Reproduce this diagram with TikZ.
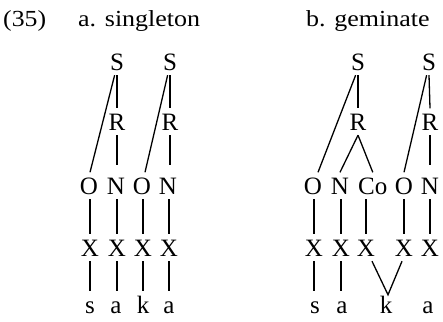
\documentclass[tikz,border=0pt]{standalone}
\usepackage{fontspec}
\setmainfont{Liberation Serif}
\begin{document}
\begin{tikzpicture}[x=1pt,y=-1pt,
  seg/.style={font=\fontsize{25}{25}\selectfont, inner xsep=0pt, inner ysep=5pt, text height=16.5pt, text depth=0pt, anchor=base},
  low/.style={seg, text height=17pt},
  hdr/.style={font=\fontsize{23}{23}\selectfont, inner sep=0pt, anchor=base west},
  ln/.style={line width=1.3pt},
  rn/.style={ln, shorten >=7pt}]
\useasboundingbox (0,0) rectangle (443,321);
% header
\node[hdr] (h0) at (3,27) {\scalebox{1.12}[1]{(35)}};
\node[hdr] (ha) at (78,27) {\scalebox{1.13}[1]{a. singleton}};
\node[hdr] (hb) at (306,27) {\scalebox{1.13}[1]{b. geminate}};
% (a) singleton
\node[seg] (S1) at (117,70) {S};
\node[seg] (S2) at (170,70) {S};
\node[seg] (R1) at (117,130) {R};
\node[seg] (R2) at (170,130) {R};
\node[seg] (O1) at (89,194) {O};
\node[seg] (N1) at (116,194) {N};
\node[seg] (O2) at (142,194) {O};
\node[seg] (N2) at (168,194) {N};
\node[seg] (X1) at (90,256) {X};
\node[seg] (X2) at (117,256) {X};
\node[seg] (X3) at (143,256) {X};
\node[seg] (X4) at (169,256) {X};
\node[low] (s1) at (90,313) {s};
\node[low] (a1) at (116,313) {a};
\node[low] (k1) at (143,313) {k};
\node[low] (a2) at (169,313) {a};
\draw[ln] (S1.-100) -- ([xshift=1pt]O1.north);
\draw[ln] (S1.south) -- (R1.north);
\draw[rn] (R1.south) -- (R1.south |- N1.north);
\draw[ln] (S2.-100) -- ([xshift=3pt]O2.north);
\draw[ln] (S2.south) -- (R2.north);
\draw[rn] (R2.south) -- (R2.south |- N2.north);
\draw[ln] (O1.south -| X1.north) -- (X1.north);
\draw[ln] (N1.south -| X2.north) -- (X2.north);
\draw[ln] (O2.south -| X3.north) -- (X3.north);
\draw[ln] (N2.south -| X4.north) -- (X4.north);
\draw[ln] (X1.south) -- (X1.south |- s1.north);
\draw[ln] (X2.south) -- (X2.south |- a1.north);
\draw[ln] (X3.south) -- (X3.south |- k1.north);
\draw[ln] (X4.south) -- (X4.south |- a2.north);
% (b) geminate
\node[seg] (S3) at (358,70) {S};
\node[seg] (S4) at (429,70) {S};
\node[seg] (R3) at (358,130) {R};
\node[seg] (R4) at (430,130) {R};
\node[seg] (O3) at (313,194) {O};
\node[seg] (N3) at (340,194) {N};
\node[seg, anchor=base west] (Co) at (358,194) {Co};
\node[seg] (O4) at (404,194) {O};
\node[seg] (N4) at (430,194) {N};
\node[seg] (Y1) at (314,256) {X};
\node[seg] (Y2) at (341,256) {X};
\node[seg] (Y3) at (366,256) {X};
\node[seg] (Y4) at (404,256) {X};
\node[seg] (Y5) at (430,256) {X};
\node[low] (s2) at (315,313) {s};
\node[low] (a3) at (342,313) {a};
\node[low] (k2) at (386,313) {k};
\node[low] (a4) at (428,313) {a};
\coordinate (kv) at ([xshift=2pt,yshift=-4pt]k2.north);
\draw[ln] (S3.-100) -- ([xshift=5pt]O3.north);
\draw[ln] (S3.south) -- (R3.north);
\draw[ln] (R3.south) -- (N3.north);
\draw[ln] (R3.south) -- (Co.north);
\draw[ln] (S4.-100) -- (O4.north);
\draw[ln] (S4.south) -- (R4.north);
\draw[rn] (R4.south) -- (R4.south |- N4.north);
\draw[ln] (O3.south -| Y1.north) -- (Y1.north);
\draw[ln] (N3.south -| Y2.north) -- (Y2.north);
\draw[ln] (Co.south -| Y3.north) -- (Y3.north);
\draw[ln] (O4.south -| Y4.north) -- (Y4.north);
\draw[ln] (N4.south -| Y5.north) -- (Y5.north);
\draw[ln] (Y1.south) -- (Y1.south |- s2.north);
\draw[ln] (Y2.south) -- (Y2.south |- a3.north);
\draw[ln] ([xshift=6pt]Y3.south) -- (kv) -- ([xshift=-2pt]Y4.south);
\end{tikzpicture}
\end{document}
